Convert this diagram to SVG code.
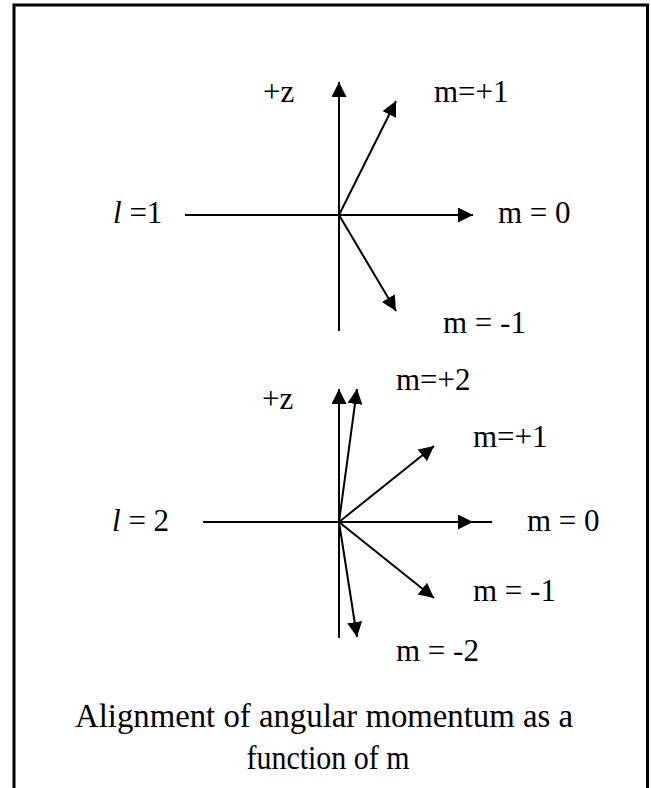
<svg xmlns="http://www.w3.org/2000/svg" width="651" height="788" viewBox="0 0 651 788">
<defs>
<style>
text{font-family:"Liberation Serif","Times New Roman",serif;font-size:31px;fill:#000}
.cap{font-size:34px;text-anchor:middle}
.ln{stroke:#000;stroke-width:2;fill:none}
.it{font-style:italic}
</style>
<marker id="ah" markerUnits="userSpaceOnUse" markerWidth="16" markerHeight="16" refX="15" refY="7.5" orient="auto" viewBox="0 0 16 16">
<path d="M0,0 L15,7.5 L0,15 Z" fill="#000"/>
</marker>
</defs>
<rect width="651" height="788" fill="#fff"/>
<path d="M14,792 L14,5 L647.5,5 L647.5,792" fill="none" stroke="#000" stroke-width="3"/>
<g id="connectors">
<line class="ln" x1="339" y1="331" x2="339" y2="82" marker-end="url(#ah)"/>
<line class="ln" x1="185" y1="215" x2="473" y2="215" marker-end="url(#ah)"/>
<line class="ln" x1="339" y1="215" x2="396" y2="101" marker-end="url(#ah)"/>
<line class="ln" x1="339" y1="215" x2="396" y2="311" marker-end="url(#ah)"/>
<line class="ln" x1="339" y1="638" x2="339" y2="389" marker-end="url(#ah)"/>
<line class="ln" x1="203" y1="522" x2="492" y2="522"/>
<line class="ln" x1="339" y1="522" x2="473" y2="522" marker-end="url(#ah)"/>
<line class="ln" x1="339" y1="522" x2="357" y2="389" marker-end="url(#ah)"/>
<line class="ln" x1="339" y1="522" x2="434" y2="446" marker-end="url(#ah)"/>
<line class="ln" x1="339" y1="522" x2="434" y2="598" marker-end="url(#ah)"/>
<line class="ln" x1="339" y1="522" x2="357" y2="637" marker-end="url(#ah)"/>
</g>
<g id="l1-labels">
<text x="263" y="102">+z</text>
<text x="434" y="102">m=+1</text>
<text x="113" y="223"><tspan class="it">l</tspan> =1</text>
<text x="498" y="223">m = 0</text>
<text x="443" y="333">m = -1</text>
</g>
<g id="l2-labels">
<text x="262" y="409">+z</text>
<text x="396" y="390">m=+2</text>
<text x="473" y="447">m=+1</text>
<text x="112" y="531"><tspan class="it">l</tspan> = 2</text>
<text x="527" y="531">m = 0</text>
<text x="473" y="601">m = -1</text>
<text x="396" y="661">m = -2</text>
</g>
<g id="caption">
<text class="cap" x="324" y="727" textLength="498" lengthAdjust="spacingAndGlyphs">Alignment of angular momentum as a</text>
<text class="cap" x="328" y="769" textLength="163" lengthAdjust="spacingAndGlyphs">function of m</text>
</g>
</svg>
